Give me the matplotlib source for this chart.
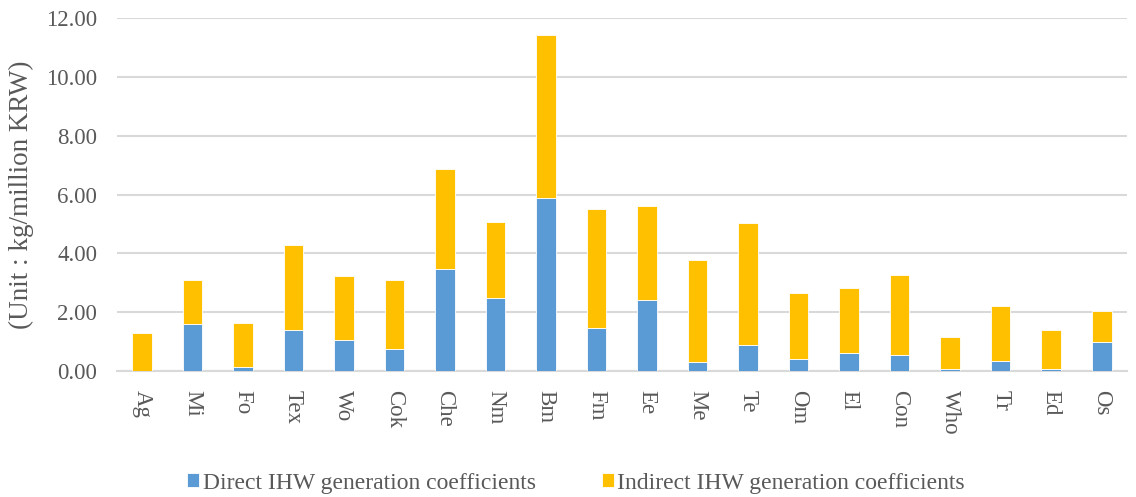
import matplotlib
matplotlib.use("Agg")
import matplotlib.pyplot as plt
import numpy as np

categories = ["Ag", "Mi", "Fo", "Tex", "Wo", "Cok", "Che", "Nm", "Bm", "Fm",
              "Ee", "Me", "Te", "Om", "El", "Con", "Who", "Tr", "Ed", "Os"]
totals = [1.30, 3.10, 1.62, 4.27, 3.23, 3.10, 6.87, 5.08, 11.43, 5.50,
          5.62, 3.78, 5.03, 2.65, 2.81, 3.25, 1.17, 2.22, 1.39, 2.03]
direct = [0.00, 1.60, 0.15, 1.39, 1.07, 0.74, 3.46, 2.49, 5.89, 1.47,
          2.40, 0.31, 0.90, 0.40, 0.62, 0.55, 0.08, 0.34, 0.06, 0.99]
indirect = [t - d for t, d in zip(totals, direct)]
yticks = [0, 2, 4, 6, 8, 10, 12]

plt.rcParams['font.family'] = ['Liberation Serif', 'DejaVu Serif']
gray = '#595959'

fig = plt.figure(figsize=(11.36, 4.97), dpi=100)
ax = fig.add_axes([0.1027, 0.2535, 0.8893, 0.7103])
x = np.arange(len(categories))
w = 0.39
ax.bar(x, direct, w, color='#5B9BD5', edgecolor='white', linewidth=0.6,
       label='Direct IHW generation coefficients', zorder=3)
ax.bar(x, indirect, w, bottom=direct, color='#FFC000', edgecolor='white', linewidth=0.6,
       label='Indirect IHW generation coefficients', zorder=3)

ax.set_xlim(-0.5, len(categories) - 0.5)
ax.set_ylim(0, 12)
ax.set_yticks(yticks)
ax.set_yticklabels([f"{v:.2f}" for v in yticks])
ax.set_xticks(x)
ax.set_xticklabels(categories, rotation=-90, ha='center', va='top')
ax.tick_params(axis='both', length=0, labelsize=16.5, colors=gray)
ax.tick_params(axis='y', pad=14)
ax.tick_params(axis='x', pad=14)
ax.grid(axis='y', color='#D9D9D9', linewidth=1.5, zorder=0)
for s in ['top', 'right', 'left']:
    ax.spines[s].set_visible(False)
ax.spines['bottom'].set_color('#D9D9D9')
ax.spines['bottom'].set_linewidth(1.5)
ax.set_ylabel('(Unit : kg/million KRW)', fontsize=19.5, color=gray, labelpad=9)

handles, labels = ax.get_legend_handles_labels()
fig.legend(handles, labels, loc='center', bbox_to_anchor=(0.507, 0.028), ncol=2,
           frameon=False, fontsize=17, labelcolor=gray, handlelength=0.5, handleheight=0.5,
           handletextpad=0.15, columnspacing=2.8)

fig.savefig('out.png', dpi=100)
